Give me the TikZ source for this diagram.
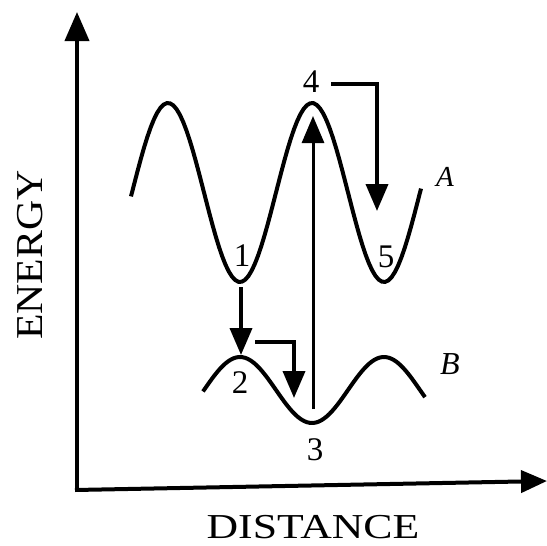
\documentclass[tikz,border=0pt]{standalone}
\usepackage{fontspec}
\setmainfont{Liberation Serif}
\usepackage{tikz}
\usetikzlibrary{arrows.meta}

\begin{document}
\begin{tikzpicture}[x=1pt, y=-1pt, curve/.style={line width=4pt},
	jump/.style={line width=3.8pt, -{Triangle[length=27pt,width=22pt]}},
	lbl/.style={inner sep=0pt, font=\fontsize{33}{36}\selectfont}]
	\useasboundingbox (0,0) rectangle (546,546);
	% axes
	\coordinate (orig) at (77,490);
	\coordinate (ytop) at (77,12);
	\coordinate (xend) at (547,481);
	\draw[line width=4pt, -{Triangle[length=29pt,width=24pt]}] (orig) -- (ytop);
	\draw[line width=4pt, -{Triangle[length=26pt,width=22pt]}] ([xshift=-2pt]orig) -- (xend);
	\node[font=\fontsize{35}{40}\selectfont] (xlab) at (313,527) {\scalebox{1.25}[1]{DISTANCE}};
	\node[rotate=90, font=\fontsize{38}{42}\selectfont] (ylab) at (30,255) {\scalebox{1.1}[1]{ENERGY}};
	% the two energy curves
	\draw[curve] plot[domain=131:421, samples=90] (\x, {192.5-89.5*cos((\x-168)*2.5)});
	\draw[curve] plot[domain=203:425, samples=80] (\x, {390-33*cos((\x-240)*2.5)});
	\node[lbl, font=\fontsize{29}{32}\selectfont\itshape] (curA) at (445,177) {A};
	\node[lbl, font=\fontsize{32}{36}\selectfont\itshape] (curB) at (450,364) {B};
	\foreach \n/\p in {1/{(242,256)}, 2/{(240,383)}, 3/{(315,450)}, 4/{(311,82)}, 5/{(386,257)}}
		\node[lbl] (n\n) at \p {\n};
	% transitions
	\coordinate (botA) at (241,287);
	\coordinate (topB) at (241,355);
	\coordinate (s23) at (255,342);
	\coordinate (e23) at (294,398);
	\coordinate (botB) at (313,409);
	\coordinate (topA) at (313,116);
	\coordinate (e45) at (377,211);
	\draw[jump] (botA) -- (topB);
	\draw[jump, line width=3pt] (botB) -- (topA);
	\draw[jump] (s23) -| (e23);
	\draw[jump] ([xshift=12pt]n4.east |- 0,84) -| (e45);
\end{tikzpicture}
\end{document}
